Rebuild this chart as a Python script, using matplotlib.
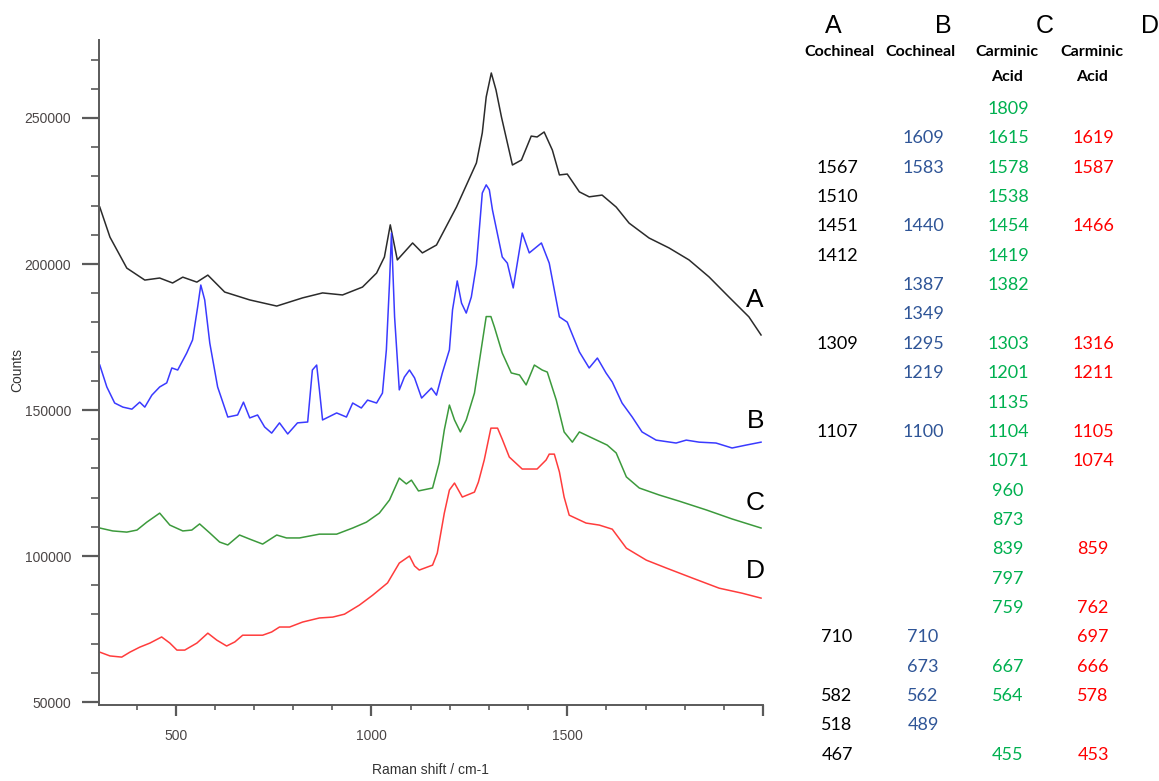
import matplotlib
matplotlib.use("Agg")
import matplotlib.pyplot as plt
from matplotlib.ticker import MultipleLocator, FixedLocator

# Raman spectra (wavenumber cm-1, counts)
a_x = [306, 332, 375, 421, 459, 492, 518, 554, 582, 625, 689, 758, 824, 875, 926, 977,
       1013, 1033, 1048, 1066, 1105, 1130, 1166, 1217, 1268, 1283, 1293, 1306, 1318, 1332,
       1360, 1383, 1408, 1423, 1441, 1462, 1480, 1500, 1531, 1556, 1589, 1625, 1658, 1709,
       1760, 1811, 1862, 1913, 1964, 1995]
a_y = [219500, 209200, 198600, 194500, 195200, 193500, 195500, 193800, 196200, 190400,
       187700, 185600, 188400, 190100, 189400, 192100, 196900, 202400, 213400, 201400,
       207200, 203800, 206500, 219500, 234600, 244900, 257200, 265400, 259600, 250300,
       233900, 235600, 243800, 243500, 245200, 239000, 230500, 230800, 224700, 223000,
       223600, 219500, 214000, 208900, 205500, 201400, 195600, 188700, 181900, 175700]

b_x = [306, 324, 344, 365, 388, 408, 421, 439, 459, 477, 490, 505, 528, 543, 556, 564,
       574, 587, 607, 633, 658, 673, 689, 709, 727, 745, 765, 786, 811, 837, 849, 860,
       867, 875, 911, 936, 952, 974, 990, 1013, 1028, 1038, 1046, 1051, 1059, 1071, 1084,
       1097, 1110, 1128, 1153, 1166, 1181, 1199, 1207, 1219, 1230, 1242, 1255, 1268, 1283,
       1293, 1301, 1309, 1334, 1347, 1362, 1385, 1403, 1434, 1454, 1480, 1500, 1531, 1556,
       1577, 1599, 1615, 1640, 1666, 1691, 1727, 1778, 1804, 1837, 1880, 1921, 1957, 1995]
b_y = [165400, 157900, 152400, 151000, 150300, 152700, 151000, 155100, 157900, 159300,
       164400, 163700, 169500, 174000, 185300, 192800, 187700, 172900, 157900, 147600,
       148300, 152700, 147300, 148300, 144200, 142100, 145600, 141800, 145600, 145900,
       163700, 165400, 156900, 146600, 149000, 147600, 152400, 150700, 153400, 152400,
       155800, 170600, 193500, 210600, 181900, 156900, 161300, 163700, 161000, 154100,
       157500, 155100, 162700, 170600, 184300, 194200, 186600, 183200, 188700, 199700,
       224300, 227100, 225400, 218500, 202400, 200300, 191800, 210600, 203800, 207200,
       200300, 181900, 180100, 169900, 164400, 167800, 162700, 159600, 152400, 147600,
       142500, 139700, 138700, 139700, 139000, 138700, 137000, 138000, 139000]

c_x = [306, 339, 375, 401, 426, 459, 485, 518, 541, 561, 587, 612, 633, 663, 689, 722,
       758, 783, 816, 867, 911, 952, 987, 1020, 1046, 1071, 1089, 1102, 1120, 1156, 1173,
       1186, 1199, 1212, 1227, 1242, 1263, 1276, 1293, 1305, 1314, 1334, 1357, 1378, 1395,
       1416, 1436, 1449, 1472, 1492, 1513, 1531, 1564, 1602, 1625, 1651, 1684, 1735, 1786,
       1855, 1921, 1995]
c_y = [109600, 108600, 108200, 108900, 111600, 114700, 110600, 108600, 108900, 111000,
       107900, 104800, 103800, 107200, 105800, 104100, 107200, 106200, 106200, 107500,
       107500, 109600, 111600, 114700, 119200, 126700, 124700, 126000, 122300, 123300,
       131900, 143200, 151700, 146600, 142500, 146600, 155800, 167100, 182000, 182000,
       178400, 169500, 162700, 162000, 158600, 165400, 163700, 163000, 153400, 142500,
       139000, 142500, 140400, 138000, 135300, 127100, 123300, 120900, 118800, 115800,
       112700, 109600]

d_x = [306, 332, 362, 383, 408, 434, 464, 485, 503, 523, 554, 582, 605, 630, 651, 671,
       722, 745, 765, 791, 824, 867, 901, 931, 969, 1003, 1041, 1071, 1097, 1110, 1122,
       1156, 1168, 1186, 1199, 1212, 1232, 1263, 1273, 1288, 1305, 1322, 1334, 1352, 1385,
       1423, 1446, 1454, 1467, 1480, 1492, 1505, 1548, 1582, 1615, 1651, 1702, 1753, 1819,
       1888, 1946, 1995]
d_y = [67100, 65800, 65400, 67100, 68800, 70200, 72300, 70200, 67800, 67800, 70200,
       73600, 71200, 69200, 70600, 72900, 72900, 74000, 75700, 75700, 77400, 78800, 79100,
       80100, 83200, 86600, 90800, 97600, 100000, 96600, 95200, 96900, 101000, 114700,
       122600, 125000, 120200, 121900, 125300, 132900, 143800, 143800, 140000, 133900,
       129800, 129800, 132900, 134900, 134900, 128800, 120200, 114000, 111300, 110600,
       109200, 102700, 98600, 95900, 92500, 89000, 87300, 85600]

spectra = [("A", a_x, a_y, "#2b2b2b", 187700),
           ("B", b_x, b_y, "#3a3aff", 146200),
           ("C", c_x, c_y, "#3c9a3c", 118200),
           ("D", d_x, d_y, "#ff3c3c", 94900)]

# Table of band positions (blank where no band)
headers = ["A", "B", "C", "D"]
names_1 = ["Cochineal", "Cochineal", "Carminic", "Carminic"]
names_2 = ["", "", "Acid", "Acid"]
col_a = ["", "", "1567", "1510", "1451", "1412", "", "", "1309", "", "", "1107", "", "",
         "", "", "", "", "710", "", "582", "518", "467"]
col_b = ["", "1609", "1583", "", "1440", "", "1387", "1349", "1295", "1219", "", "1100",
         "", "", "", "", "", "", "710", "673", "562", "489", ""]
col_c = ["1809", "1615", "1578", "1538", "1454", "1419", "1382", "", "1303", "1201", "1135",
         "1104", "1071", "960", "873", "839", "797", "759", "", "667", "564", "", "455"]
col_d = ["", "1619", "1587", "", "1466", "", "", "", "1316", "1211", "", "1105", "1074",
         "", "", "859", "", "762", "697", "666", "578", "", "453"]
col_colors = ["black", "#2f5597", "#00b050", "#ff0000"]

W, H = 1159, 781
fig = plt.figure(figsize=(W / 100, H / 100), dpi=100)
ax = fig.add_axes([99 / W, 1 - 705 / H, (763 - 99) / W, (705 - 40) / H])

for name, xs, ys, col, lab_y in spectra:
    ax.plot(xs, ys, color=col, lw=1.1)
    ax.text(1980, lab_y, name, fontsize=19, ha="center", va="center",
            family="Liberation Sans")

ax.set_xlim(304, 2000)
ax.set_ylim(49000, 276700)

axis_col = "#5a5a5a"
for s in ["top", "right"]:
    ax.spines[s].set_visible(False)
for s in ["left", "bottom"]:
    ax.spines[s].set_color(axis_col)
    ax.spines[s].set_linewidth(1.4)

ax.xaxis.set_major_locator(FixedLocator([500, 1000, 1500, 2000]))
ax.set_xticklabels(["500", "1000", "1500", ""])
ax.xaxis.set_minor_locator(MultipleLocator(100))
ax.yaxis.set_major_locator(FixedLocator([50000, 100000, 150000, 200000, 250000]))
ax.yaxis.set_minor_locator(MultipleLocator(10000))

lab_col = "#4b4646"
ax.tick_params(axis="y", which="major", length=12, width=1.6, color=axis_col,
               labelsize=10, labelcolor=lab_col, pad=8)
ax.tick_params(axis="y", which="minor", length=6, width=1.2, color=axis_col)
ax.tick_params(axis="x", which="major", length=8, width=1.6, color=axis_col,
               labelsize=10, labelcolor=lab_col, pad=9)
ax.tick_params(axis="x", which="minor", length=3.5, width=1.2, color=axis_col)
for t in ax.get_xticklabels() + ax.get_yticklabels():
    t.set_family("Liberation Sans")

fig.text(17 / W, 1 - 370 / H, "Counts", rotation=90, ha="center", va="center",
         fontsize=10, color="#333333", family="Liberation Sans")
fig.text(430 / W, 1 - 770 / H, "Raman shift / cm-1", ha="center", va="center",
         fontsize=10, color="#333333", family="Liberation Sans")

# table on the right
letter_x = [833, 943, 1045, 1150]
name_x = [839, 920, 1007, 1092]
col_x = [837, 923, 1008, 1093]
for i in range(4):
    fig.text(letter_x[i] / W, 1 - 26 / H, headers[i], ha="center", va="center",
             fontsize=18, family="Liberation Sans")
    fig.text(name_x[i] / W, 1 - 52 / H, names_1[i], ha="center", va="center",
             fontsize=11.5, fontweight="bold", family="Lato")
    if names_2[i]:
        fig.text(name_x[i] / W, 1 - 77 / H, names_2[i], ha="center", va="center",
                 fontsize=11.5, fontweight="bold", family="Lato")

for j, col in enumerate([col_a, col_b, col_c, col_d]):
    for i, val in enumerate(col):
        if val:
            fig.text(col_x[j] / W, 1 - (109 + i * 29.35) / H, val, ha="center",
                     va="center", fontsize=13, color=col_colors[j], family="Lato")

fig.savefig("out.png", dpi=100)
